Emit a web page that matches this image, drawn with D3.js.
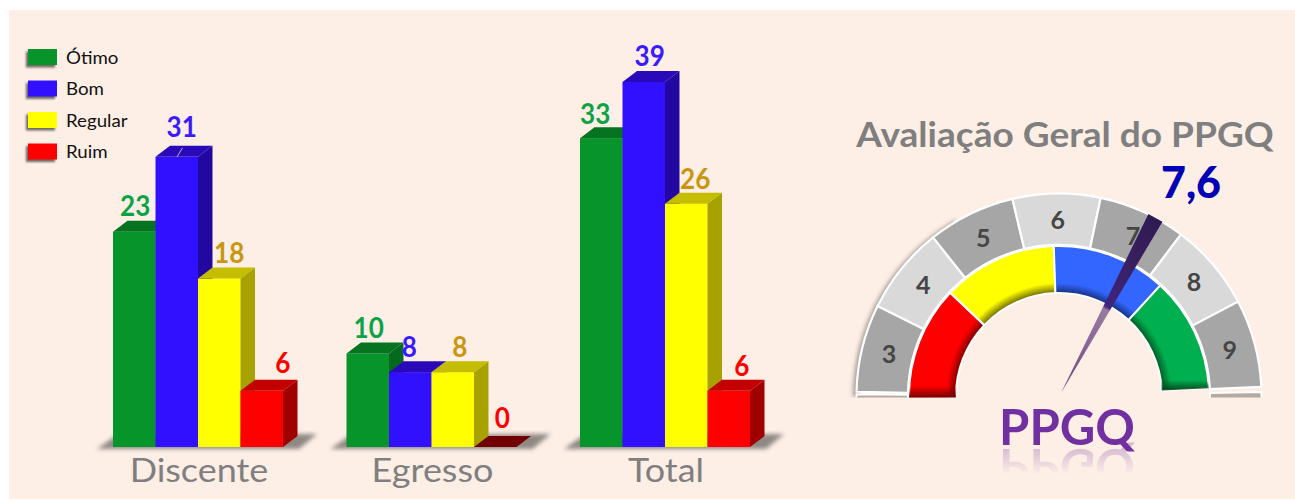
<!DOCTYPE html>
<html><head><meta charset="utf-8">
<script src="https://cdn.jsdelivr.net/npm/d3@7/dist/d3.min.js"></script>
<style>html,body{margin:0;padding:0;background:#fff}svg{display:block}text{font-family:Lato,Carlito,sans-serif}</style>
</head><body><div id="chart"></div>
<script>
// ---- data ----
const categories = ["Discente","Egresso","Total"];
const seriesNames = ["Ótimo","Bom","Regular","Ruim"];
const otimo = [23,10,33];
const bom = [31,8,39];
const regular = [18,8,26];
const ruim = [6,0,6];
const gaugeTicks = [3,4,5,6,7,8,9];
const gaugeZones = ["Ruim","Regular","Bom","Ótimo"];
const gaugeValue = 7.6;
const gaugeValueLabel = "7,6";
const gaugeTitle = "Avaliação Geral do PPGQ";
const gaugeName = "PPGQ";

// ---- style ----
const values = {"Ótimo":otimo,"Bom":bom,"Regular":regular,"Ruim":ruim};
const front = {"Ótimo":"#06942b","Bom":"#3010ff","Regular":"#ffff00","Ruim":"#ff0000"};
const topC = {"Ótimo":"#067320","Bom":"#2a0ab8","Regular":"#c4bd00","Ruim":"#c20000"};
const sideC = {"Ótimo":"#056a1e","Bom":"#2208a0","Regular":"#a8a200","Ruim":"#a00000"};
const labelC = {"Ótimo":"#0ba346","Bom":"#3a1aff","Regular":"#c8960f","Ruim":"#ff0000"};
const labelNudgeX = [[1,5,10,21],[1,-1,7,7],[-6,6,9,13]];
const labelNudgeY = [[-5,-9,-5,-7],[-4,-4,-4,-8],[-3,-5,-4,-4]];
const depthX = 14.5, depthY = 11;

const W=1295,H=501;
const svg=d3.select("#chart").append("svg").attr("width",W).attr("height",H);
const defs=svg.append("defs");
svg.append("rect").attr("x",9).attr("y",10).attr("width",W-9).attr("height",489).attr("fill","#fdeee6");

const blur=(id,s)=>defs.append("filter").attr("id",id).attr("x","-20%").attr("y","-50%").attr("width","140%").attr("height","200%")
  .append("feGaussianBlur").attr("stdDeviation",s);
blur("b2",2); blur("b1",1);

// text stretched horizontally to follow the reference's glyph proportions
const wideText=(parent,x,y,sx,str)=>parent.append("text")
  .attr("transform",`translate(${x},${y}) scale(${sx},1)`).text(str);

// ---- bars ----
const x0=d3.scaleBand().domain(categories).range([113,750]).paddingInner(0.272).paddingOuter(0);
const x1=d3.scaleBand().domain(seriesNames).range([0,x0.bandwidth()]);
const y=d3.scaleLinear().domain([0,39]).range([447,82]);
const poly=p=>p.map(d=>d.join(",")).join(" ");

categories.forEach((cat,ci)=>{
  const g=svg.append("g").attr("class","group");
  const gx=x0(cat), bw=x0.bandwidth();
  g.append("polygon").attr("filter","url(#b2)").attr("fill","#8f8984")
    .attr("points",poly([[gx-16,449],[gx+4,435],[gx+bw+34,434],[gx+bw+16,449]]));
  seriesNames.forEach(s=>{
    const v=values[s][ci], xl=gx+x1(s), w=x1.bandwidth(), yt=y(v), yb=y(0);
    if(v>0){
      g.append("rect").attr("x",xl).attr("y",yt).attr("width",w).attr("height",yb-yt).attr("fill",front[s]);
      g.append("polygon").attr("fill",sideC[s]).attr("points",poly([[xl+w,yt],[xl+w+depthX,yt-depthY],[xl+w+depthX,yb-depthY],[xl+w,yb]]));
      g.append("polygon").attr("fill",topC[s]).attr("points",poly([[xl,yt],[xl+depthX,yt-depthY],[xl+w+depthX,yt-depthY],[xl+w,yt]]));
    } else {
      g.append("polygon").attr("fill","#720000").attr("points",poly([[xl,yt],[xl+depthX,yt-depthY],[xl+w+depthX,yt-depthY],[xl+w,yt]]));
    }
  });
  seriesNames.forEach((s,si)=>{
    const v=values[s][ci];
    wideText(g,gx+x1(s)+x1.bandwidth()/2+labelNudgeX[ci][si],y(v)-depthY+labelNudgeY[ci][si],0.9,v)
      .attr("text-anchor","middle").attr("font-size",29).attr("font-weight",700).attr("fill",labelC[s]);
  });
});
svg.append("line").attr("x1",x0("Discente")+x1("Bom")+21.5).attr("y1",y(31)).attr("x2",x0("Discente")+x1("Bom")+27).attr("y2",y(31)-9)
  .attr("stroke","#b9b5c8").attr("stroke-width",1);

const axis=d3.axisBottom(x0).tickSize(0).tickPadding(0);
const ax=svg.append("g").attr("transform","translate(1,459)").call(axis);
ax.select(".domain").remove();
ax.selectAll(".tick text").attr("font-size",33).attr("fill","#7f7f7f").style("font-family","Lato,sans-serif")
  .attr("transform","scale(1.09,1)");

// ---- legend ----
const ly=d3.scalePoint().domain(seriesNames).range([49,143.5]);
seriesNames.forEach(s=>{
  const g=svg.append("g").attr("transform",`translate(28,${ly(s)})`);
  g.append("rect").attr("x",-2).attr("y",2.5).attr("width",29).attr("height",16).attr("fill","#6e6864").attr("filter","url(#b1)");
  g.append("rect").attr("width",29).attr("height",16).attr("fill",front[s]);
  wideText(g,38,14.5,1.1,s).attr("font-size",17).attr("fill","#111");
});

// ---- gauge ----
const cx=1059,cy=396;
const rad=a=>(a-90)*Math.PI/180;
defs.append("clipPath").attr("id","gclip").append("rect").attr("x",830).attr("y",170).attr("width",460).attr("height",227.5);
const gauge=svg.append("g").attr("clip-path","url(#gclip)");
const ang=d3.scaleLinear().domain([3,10]).range([1.2,177.4]);
const greyArc=d3.arc().innerRadius(151).outerRadius(202.5);

gauge.append("path").attr("transform",`translate(${cx-2},${cy+1})`).attr("filter","url(#b2)").attr("fill","#a59c96")
  .attr("d",d3.arc().innerRadius(196).outerRadius(204).startAngle(rad(0)).endAngle(rad(60))());
const g2=gauge.append("g").attr("transform",`translate(${cx},${cy})`);
[[-8,0.5],[178.9,188]].forEach(a=>{
  g2.append("path").attr("fill","#b3aaa4").attr("stroke","#fff").attr("stroke-width",2)
    .attr("d",greyArc({startAngle:rad(a[0]),endAngle:rad(a[1])}));
});
gaugeTicks.forEach((t,i)=>{
  g2.append("path").attr("fill",i%2?"#d9d9d9":"#a6a6a6").attr("stroke","#fff").attr("stroke-width",2.2)
    .attr("d",greyArc({startAngle:rad(ang(t)),endAngle:rad(ang(t+1))}));
});
gaugeTicks.forEach(t=>{
  const a=rad(ang(t+0.5));
  g2.append("text").attr("x",176*Math.sin(a)+1).attr("y",-176*Math.cos(a)+9).attr("text-anchor","middle")
    .attr("font-size",25).attr("font-weight",700).attr("fill","#454545").text(t);
});
const zone=d3.scaleBand().domain(gaugeZones).range([-1,177]);
const zoneFill={"Ruim":["#ff0000","#7d0000"],"Regular":["#ffff00","#6e6a00"],"Bom":["#3366ff","#16307c"],"Ótimo":["#00b050","#005a25"]};
const zoneArc=d3.arc().innerRadius(103).outerRadius(150);
gaugeZones.forEach((z,i)=>{
  const grad=defs.append("radialGradient").attr("id","z"+i).attr("gradientUnits","userSpaceOnUse")
    .attr("cx",0).attr("cy",0).attr("r",150);
  grad.append("stop").attr("offset",103/150).attr("stop-color",zoneFill[z][1]);
  grad.append("stop").attr("offset",113/150).attr("stop-color",zoneFill[z][0]);
  grad.append("stop").attr("offset",1).attr("stop-color",zoneFill[z][0]);
  g2.append("path").attr("fill",`url(#z${i})`).attr("stroke","#fff").attr("stroke-width",2)
    .attr("d",zoneArc({startAngle:rad(zone(z)),endAngle:rad(zone(z)+zone.bandwidth())}));
});
const endGrad=(id,c,y1,y2)=>{const g=defs.append("linearGradient").attr("id",id).attr("gradientUnits","userSpaceOnUse").attr("x1",0).attr("x2",0).attr("y1",y1).attr("y2",y2);
  g.append("stop").attr("offset",0).attr("stop-color",c).attr("stop-opacity",0);
  g.append("stop").attr("offset",1).attr("stop-color",c).attr("stop-opacity",.9);};
endGrad("endR","#6e0000",-10,1); endGrad("endG","#004a1e",-16,-7);
g2.append("path").attr("fill","url(#endR)").attr("d",zoneArc({startAngle:rad(-1),endAngle:rad(6)}));
g2.append("path").attr("fill","url(#endG)").attr("d",zoneArc({startAngle:rad(170),endAngle:rad(177)}));

// needle
const needleAng=d3.scaleLinear().domain([3,10]).range([3,178.5]);
const px=1061,py=393,nLen=199,nHalf=8;
const a=rad(needleAng(gaugeValue));
const dx=Math.sin(a),dy=-Math.cos(a);
const ng=defs.append("linearGradient").attr("id","needle").attr("gradientUnits","userSpaceOnUse")
  .attr("x1",px).attr("y1",py).attr("x2",px+dx*nLen).attr("y2",py+dy*nLen);
[[0,"#5b2f72",.9],[.3,"#7d5a8e",.9],[.475,"#947699",.95],[.49,"#40237e",.98],[.75,"#38205f",1],[1,"#2f1a52",1]]
  .forEach(s=>ng.append("stop").attr("offset",s[0]).attr("stop-color",s[1]).attr("stop-opacity",s[2]));
svg.append("polygon").attr("fill","url(#needle)").attr("points",poly([[px,py],
  [px+dx*nLen-dy*nHalf,py+dy*nLen+dx*nHalf],[px+dx*nLen+dy*nHalf,py+dy*nLen-dx*nHalf]]));

// texts
wideText(svg,1065,147,1.09,gaugeTitle).attr("text-anchor","middle").attr("font-size",34).attr("font-weight",700).attr("fill","#7f7f7f");
svg.append("text").attr("x",1191).attr("y",198).attr("text-anchor","middle").attr("font-size",43).attr("font-weight",900)
  .attr("fill","#0000b4").text(gaugeValueLabel);
svg.append("text").attr("x",1067).attr("y",445).attr("text-anchor","middle").attr("font-size",49).attr("font-weight",700)
  .attr("fill","#7030a0").text(gaugeName);
const mg=defs.append("linearGradient").attr("id","mg").attr("gradientUnits","userSpaceOnUse").attr("x1",0).attr("x2",0).attr("y1",447).attr("y2",474);
mg.append("stop").attr("offset",0).attr("stop-color","#fff").attr("stop-opacity",.28);
mg.append("stop").attr("offset",1).attr("stop-color","#fff").attr("stop-opacity",0);
defs.append("mask").attr("id","refl").attr("maskUnits","userSpaceOnUse").attr("x",950).attr("y",440).attr("width",240).attr("height",50)
  .append("rect").attr("x",950).attr("y",440).attr("width",240).attr("height",50).attr("fill","url(#mg)");
svg.append("g").attr("mask","url(#refl)").append("text").attr("transform","translate(0,894) scale(1,-1)")
  .attr("x",1067).attr("y",445).attr("text-anchor","middle").attr("font-size",49).attr("font-weight",700)
  .attr("fill","#7030a0").text(gaugeName);
</script></body></html>
